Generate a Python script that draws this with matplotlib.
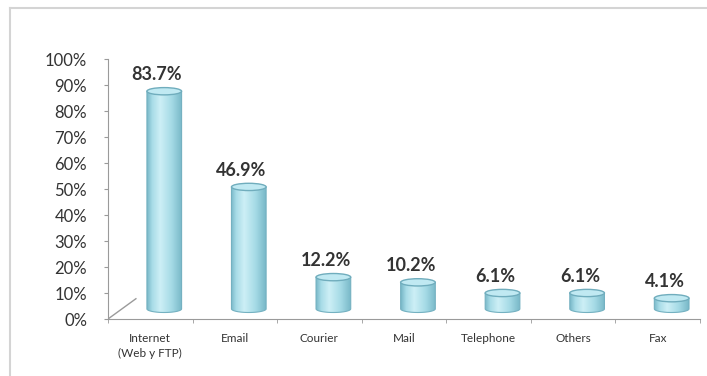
import numpy as np
import matplotlib
matplotlib.use("Agg")
from matplotlib import pyplot as plt
from matplotlib.patches import Ellipse, PathPatch
from matplotlib.path import Path
from matplotlib.colors import LinearSegmentedColormap
from matplotlib.lines import Line2D

categories = ["Internet\n(Web y FTP)", "Email", "Courier", "Mail", "Telephone", "Others", "Fax"]
shares = [83.7, 46.9, 12.2, 10.2, 6.1, 6.1, 4.1]
yticks = list(range(0, 101, 10))

plt.rcParams["font.family"] = ["Lato", "DejaVu Sans"]

fig = plt.figure(figsize=(7.07, 3.76), dpi=100)
# light frame: only top and left edges show
fig.add_artist(Line2D([10 / 707, 1.01], [1 - 8 / 376] * 2, transform=fig.transFigure, color="#d4d4d4", lw=1.5))
fig.add_artist(Line2D([10 / 707] * 2, [-0.01, 1 - 8 / 376], transform=fig.transFigure, color="#d4d4d4", lw=1.5))
ax = fig.add_axes([108 / 707, 1 - 319 / 376, 592 / 707, 260 / 376])

# fake 3d: columns sit halfway back on the floor
shift_x, shift_y = 0.165, 3.9
depth_x, depth_y = 0.33, 7.8
width = 0.41
cap_h = 2.8

shade = LinearSegmentedColormap.from_list(
    "cyl", [(0, "#78b8c8"), (0.15, "#a8dce7"), (0.38, "#cdeff6"), (0.7, "#a6dbe6"), (1, "#78b8c8")])
grad = np.linspace(0, 1, 256)[None, :]

for i, v in enumerate(shares):
    cx = i + shift_x
    x0, x1 = cx - width / 2, cx + width / 2
    bot, top = shift_y, shift_y + v
    t = np.linspace(np.pi, 2 * np.pi, 40)
    ex = cx + width / 2 * np.cos(t)
    ey = bot + cap_h / 2 * np.sin(t)
    verts = list(zip(ex, ey)) + [(x1, top), (x0, top), (x0, bot)]
    codes = [Path.MOVETO] + [Path.LINETO] * (len(verts) - 2) + [Path.CLOSEPOLY]
    body = PathPatch(Path(verts, codes), fc="none", ec="#74b1c1", lw=0.8, zorder=3)
    ax.add_patch(body)
    im = ax.imshow(grad, cmap=shade, aspect="auto", extent=[x0, x1, bot - cap_h, top],
                   zorder=2, interpolation="bilinear")
    im.set_clip_path(body)
    ax.add_patch(Ellipse((cx, top), width, cap_h, fc="#c0e9f2", ec="#70adbd", lw=1.0, zorder=4))
    ax.annotate(f"{v}%", (i + 0.08, top), xytext=(0, 6), textcoords="offset points",
                ha="center", va="bottom", fontsize=13, fontweight="bold", color="#333333")

# floor edge on the left
ax.add_line(Line2D([-0.5, -0.5 + depth_x], [0, depth_y], color="#9a9a9a", lw=1, zorder=1))

ax.set_xlim(-0.5, len(categories) - 0.5)
ax.set_ylim(0, 100)
ax.set_yticks(yticks)
ax.set_yticklabels([f"{y}%" for y in yticks], fontsize=12, color="#333333")
ax.set_xticks(range(len(categories)))
ax.set_xticklabels(categories, fontsize=8.5, color="#333333", linespacing=1.45)
ax.set_xticks(np.arange(-0.5, len(categories)), minor=True)
ax.tick_params(axis="x", which="major", length=0, pad=10)
ax.tick_params(axis="x", which="minor", length=3, color="#9a9a9a", direction="out")
ax.tick_params(axis="y", length=3, color="#9a9a9a", pad=12)
for s in ["top", "right"]:
    ax.spines[s].set_visible(False)
for s in ["left", "bottom"]:
    ax.spines[s].set_color("#9a9a9a")
ax.patch.set_alpha(0)

fig.savefig("out.png", dpi=100)
